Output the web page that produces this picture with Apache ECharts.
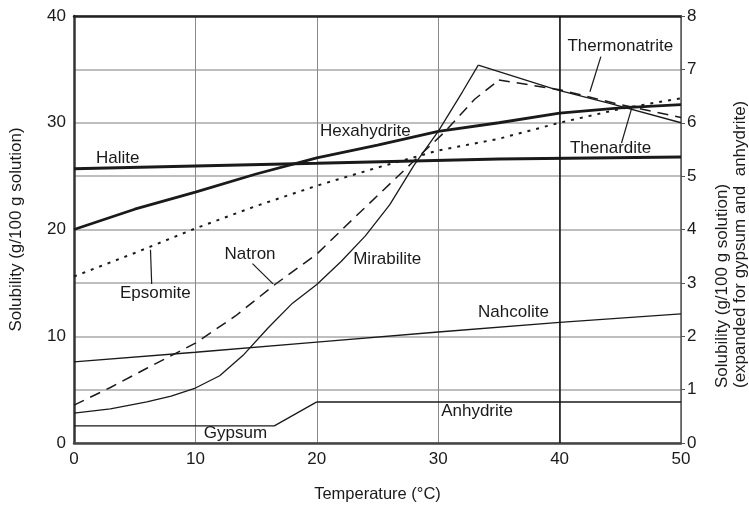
<!DOCTYPE html>
<html><head><meta charset="utf-8">
<script src="https://cdn.jsdelivr.net/npm/echarts@6/dist/echarts.min.js"></script>
<style>html,body{margin:0;padding:0;background:#fff}#c{width:749px;height:508px}</style>
</head><body><div id="c"></div>
<script>
// Temperature ticks
const xTicks = [0, 10, 20, 30, 40, 50];
// Left axis series (g/100 g solution): [temperature, solubility]
const halite = [[0,25.7],[20,26.2],[35,26.6],[50,26.8]];
const hexahydrite = [[0,20.0],[5,21.9],[10,23.5],[15,25.2],[20,26.7],[25,27.9],[30,29.2],[35,30.0],[40,30.9],[45,31.4],[50,31.7]];
const epsomite = [[0,15.6],[5,17.8],[10,20.1],[15,22.2],[20,24.1],[25,25.8],[30,27.4],[35,28.5],[40,30.0],[45,31.3],[50,32.3]];
const mirabilite = [[0,2.8],[3,3.2],[6,3.85],[8,4.4],[10,5.15],[12,6.3],[14,8.3],[16,10.8],[18,13.1],[20,14.85],[22,17.0],[24,19.4],[26,22.3],[28,26.0],[30,29.2],[32,32.9],[33.3,35.4]];
const thenardite = [[33.3,35.4],[39.7,33.1],[44.2,31.8],[50,30.0]];
const natron = [[0,3.55],[3,5.2],[6,7.0],[10,9.35],[13.3,11.9],[16.5,14.8],[20,17.7],[23,21.0],[27.8,26.2],[30.5,29.1],[33,32.2],[35,34.0]];
const thermonatrite = [[35,34.0],[40,33.1],[45,31.7],[50,30.5]];
const nahcolite = [[0,7.6],[10,8.5],[20,9.45],[30,10.4],[40,11.3],[50,12.1]];
// Right axis series (expanded scale)
const gypsum = [[0,0.32],[16.5,0.32],[20,0.77]];
const anhydrite = [[20,0.77],[50,0.77]];
// Annotation labels [text, temperature, solubility]
const labelsLeft = [['Halite',3.6,26.7],['Hexahydrite',24,29.2],['Thermonatrite',45,37.2],['Thenardite',44.2,27.6],['Natron',14.5,17.7],['Mirabilite',25.8,17.2],['Epsomite',6.7,14.0],['Nahcolite',36.2,12.2]];
const labelsRight = [['Anhydrite',33.2,0.6],['Gypsum',13.3,0.18]];
// Leader lines
const epsomitePtr = [[6.3,18.1],[6.4,14.9]];
const natronPtr = [[14.7,16.8],[16.4,14.9]];
const thermoPtr = [[43.4,36.2],[42.5,32.9]];
const thenarditePtr = [[45.1,28.1],[46,31.6]];

const FONT = 'Liberation Sans, Arial, Helvetica, sans-serif';
const INK = '#1a1a1a';
function ln(name, data, width, type, yi) {
  return {name, type:'line', data, yAxisIndex: yi||0, showSymbol:false, symbol:'none', silent:true,
    lineStyle:{color:INK, width, type: type||'solid'}, z:3};
}
function lbl(list, yi) {
  return {type:'scatter', yAxisIndex:yi, silent:true, symbol:'circle', symbolSize:0,
    itemStyle:{color:INK, opacity:1},
    data: list.map(l => ({value:[l[1], l[2]], name:l[0]})),
    label:{show:true, position:'inside', formatter:p=>p.name, color:INK, opacity:1,
      textBorderWidth:0, fontSize:17, fontFamily:FONT}, z:5};
}
const chart = echarts.init(document.getElementById('c'), null, {renderer:'canvas'});
const series = [
  Object.assign(ln('Halite', halite, 3), {markLine:{silent:true, symbol:['none','none'], label:{show:false},
    lineStyle:{color:'#111', width:1.5, type:'solid'}, data:[{xAxis:40}]}}),
  ln('Hexahydrite', hexahydrite, 2.8),
  ln('Epsomite', epsomite, 2, [3,6]),
  ln('Mirabilite', mirabilite, 1.3),
  ln('Thenardite', thenardite, 1.3),
  ln('Natron', natron, 1.5, [11,7]),
  ln('Thermonatrite', thermonatrite, 1.5, [11,7]),
  ln('Nahcolite', nahcolite, 1.3),
  ln('Gypsum', gypsum, 1.3, 'solid', 1),
  ln('Anhydrite', anhydrite, 1.5, 'solid', 1),
  ln('p1', epsomitePtr, 1.2), ln('p2', natronPtr, 1.2), ln('p3', thermoPtr, 1.2), ln('p4', thenarditePtr, 1.2),
  lbl(labelsLeft, 0),
  lbl(labelsRight, 1)
];
chart.setOption({
  animation:false,
  backgroundColor:'#fff',
  grid:{left:71, right:68, top:16, bottom:61},
  xAxis:[{type:'value', min:0, max:50, interval:10,
    name:'Temperature (°C)', nameLocation:'middle', nameGap:43,
    nameTextStyle:{color:INK, fontSize:16.5, fontFamily:FONT},
    axisLine:{show:true, onZero:false, lineStyle:{color:'#444', width:2.5}},
    axisTick:{show:false},
    axisLabel:{color:INK, fontSize:17, fontFamily:FONT, margin:8,
      formatter:v => xTicks.indexOf(v) >= 0 ? String(v) : ''},
    splitLine:{show:true, lineStyle:{color:'#8a8a8a', width:1}}},
   {type:'value', position:'top', min:0, max:50, interval:10,
    axisLine:{show:true, onZero:false, lineStyle:{color:'#222', width:2.5}},
    axisTick:{show:false}, axisLabel:{show:false}, splitLine:{show:false}}],
  yAxis:[{type:'value', min:0, max:40, interval:10, position:'left',
    name:'Solubility (g/100 g solution)', nameLocation:'middle', nameGap:49, nameRotate:90,
    nameTextStyle:{color:INK, fontSize:17, fontFamily:FONT},
    axisLine:{show:true, onZero:false, lineStyle:{color:'#333', width:2.5}},
    axisTick:{show:false},
    axisLabel:{color:INK, fontSize:17, fontFamily:FONT, margin:8},
    splitLine:{show:false}},
   {type:'value', min:0, max:8, interval:1, position:'right',
    axisLine:{show:true, onZero:false, lineStyle:{color:'#555', width:1.5}},
    axisTick:{show:true, length:4, lineStyle:{color:'#555'}},
    axisLabel:{color:INK, fontSize:17, fontFamily:FONT, margin:6},
    splitLine:{show:true, lineStyle:{color:'#a8a8a8', width:1.5}}}],
  graphic:[{type:'text', x:731, y:388, rotation:Math.PI/2,
    style:{text:'Solubility (g/100 g solution)\n(expanded for gypsum and  anhydrite)',
      fill:INK, fontSize:17, fontFamily:FONT, lineHeight:18, align:'left', verticalAlign:'middle'}}],
  series
});
</script></body></html>
